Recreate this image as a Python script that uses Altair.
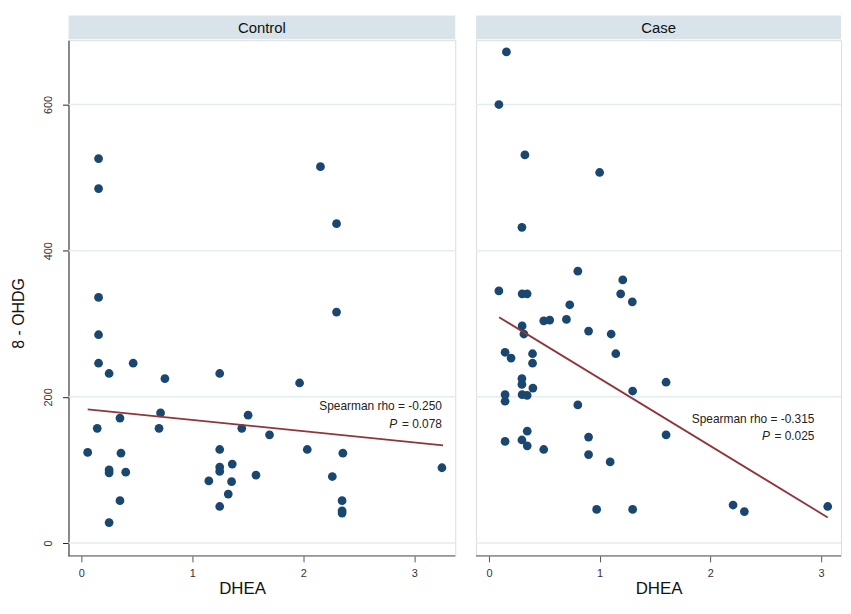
import altair as alt
import pandas as pd

# ---- data ----
control_dhea = [0.155, 0.155, 2.155, 2.30, 0.155, 2.30, 0.155, 0.155, 0.467, 0.25,
                1.247, 0.753, 1.967, 0.714, 0.348, 1.503, 0.143, 0.70, 1.446, 1.696,
                0.057, 0.357, 1.247, 2.036, 2.357, 1.36, 1.247, 1.247, 0.25, 0.25,
                0.40, 1.574, 2.262, 3.25, 1.149, 1.354, 1.324, 0.348, 2.35, 2.35,
                2.35, 1.247, 0.25]
control_ohdg = [526, 485, 515, 437, 336, 316, 285, 246, 246, 232,
                232, 225, 219, 178, 171, 175, 157, 157, 157, 148,
                124, 123, 128, 128, 123, 108, 104, 98, 100, 96,
                97, 93, 91, 103, 85, 84, 67, 58, 58, 44,
                41, 50, 28]

case_dhea = [0.158, 0.09, 0.325, 1.0, 0.298, 0.803, 1.209, 0.09, 0.30, 0.345,
             1.19, 0.73, 1.295, 0.495, 0.549, 0.70, 0.30, 0.316, 0.90, 1.104,
             0.146, 0.20, 0.394, 1.146, 0.394, 0.298, 0.298, 0.397, 1.60, 1.298,
             0.146, 0.146, 0.30, 0.345, 0.803, 0.346, 0.146, 0.298, 0.346, 0.90,
             1.60, 0.495, 0.90, 1.095, 0.973, 1.298, 2.205, 2.307, 3.06]
case_ohdg = [672, 600, 531, 507, 432, 372, 360, 345, 341, 341,
             341, 326, 330, 304, 305, 306, 297, 286, 290, 286,
             261, 253, 259, 259, 246, 225, 217, 212, 220, 208,
             203, 194, 203, 202, 189, 153, 139, 141, 133, 145,
             148, 128, 121, 111, 46, 46, 52, 43, 50]

# fitted lines (end points)
control_fit_x = [0.057, 3.26]
control_fit_y = [183, 133.5]
case_fit_x = [0.092, 3.06]
case_fit_y = [309, 35]

panels = ["Control", "Case"]
rho_text = ["Spearman rho = -0.250", "Spearman rho = -0.315"]
p_text = [" = 0.078", " = 0.025"]
text_x = [3.25, 2.94]
rho_y = [187, 170]
p_y = [163, 146]

y_ticks = [0, 200, 400, 600]
x_ticks = [0, 1, 2, 3]

NAVY = "#1a476f"
MAROON = "#90353b"
GRID = "#e3edef"
STRIP = "#d8e4e9"
FONT = "Liberation Sans"

pts = {
    "Control": pd.DataFrame({"DHEA": control_dhea, "OHDG": control_ohdg}),
    "Case": pd.DataFrame({"DHEA": case_dhea, "OHDG": case_ohdg}),
}
fits = {
    "Control": pd.DataFrame({"DHEA": control_fit_x, "OHDG": control_fit_y}),
    "Case": pd.DataFrame({"DHEA": case_fit_x, "OHDG": case_fit_y}),
}
grid_df = pd.DataFrame({"OHDG": y_ticks})

widths = [390, 368]
x_domains = [[-0.116, 3.37], [-0.116, 3.18]]
title_x = [175, 184]
y_domain = [-17.6, 688]
H = 520


def panel(i):
    name = panels[i]
    w = widths[i]
    xs = alt.Scale(domain=x_domains[i], nice=False, zero=False)
    ys = alt.Scale(domain=y_domain, nice=False, zero=False)
    xaxis = alt.Axis(values=x_ticks, title="DHEA", grid=False, tickSize=6,
                     labelPadding=6, titleFontSize=17, titleFont=FONT,
                     titleFontWeight="normal", titleColor="#111", titlePadding=2,
                     titleX=title_x[i], labelFont=FONT, labelFontSize=11,
                     labelColor="#333", domain=False, tickColor="#555",
                     format="d")
    if i == 0:
        yaxis = alt.Axis(values=y_ticks, title="8 - OHDG", grid=False,
                         tickSize=6, labelAngle=-90, labelPadding=9,
                         labelFont=FONT, labelFontSize=11, labelColor="#333",
                         domain=True, domainColor="#222", tickColor="#222",
                         titleFont=FONT, titleFontSize=16, titleFontWeight="normal",
                         titleColor="#111", titlePadding=16, titleY=275)
    else:
        yaxis = None

    def X(field):
        return alt.X(field, scale=xs, axis=xaxis)

    def Y(field):
        return alt.Y(field, scale=ys, axis=yaxis)

    grid = alt.Chart(grid_df).mark_rule(color=GRID, strokeWidth=1.5).encode(
        y=Y("OHDG:Q"))
    base_line = alt.Chart(pd.DataFrame({"k": [0]})).mark_rule(
        color="#555", strokeWidth=1).encode(
        x=alt.value(0), x2=alt.value(w), y=alt.value(H))
    points = alt.Chart(pts[name]).mark_circle(size=78, color=NAVY, opacity=1).encode(
        x=X("DHEA:Q"), y=Y("OHDG:Q"))
    line = alt.Chart(fits[name]).mark_line(color=MAROON, strokeWidth=1.8).encode(
        x=X("DHEA:Q"), y=Y("OHDG:Q"))
    ann = pd.DataFrame({"DHEA": [text_x[i]], "ry": [rho_y[i]], "py": [p_y[i]],
                        "rho": [rho_text[i]], "p": [p_text[i]]})
    rho = alt.Chart(ann).mark_text(align="right", baseline="middle", font=FONT,
                                   fontSize=12, color="#222").encode(
        x=X("DHEA:Q"), y=Y("ry:Q"), text="rho:N")
    pval = alt.Chart(ann).mark_text(align="right", baseline="middle", font=FONT,
                                    fontSize=12, color="#222").encode(
        x=X("DHEA:Q"), y=Y("py:Q"), text="p:N")
    pital = alt.Chart(ann).mark_text(align="right", baseline="middle", font=FONT,
                                     fontSize=12, fontStyle="italic", color="#222",
                                     dx=-45).encode(
        x=X("DHEA:Q"), y=Y("py:Q"), text=alt.value("P"))
    strip_df = pd.DataFrame({"label": [name]})
    strip = alt.Chart(strip_df).mark_rect(color=STRIP, clip=False).encode(
        x=alt.value(0), x2=alt.value(w), y=alt.value(-25), y2=alt.value(-1))
    strip_txt = alt.Chart(strip_df).mark_text(font=FONT, fontSize=15, color="#111",
                                              baseline="middle", clip=False).encode(
        x=alt.value(w / 2), y=alt.value(-12), text="label:N")
    return alt.layer(grid, base_line, strip, points, line, rho, pval, pital,
                     strip_txt).properties(width=w, height=H)


chart = alt.hconcat(panel(0), panel(1), spacing=17).resolve_scale(
    x="independent", y="independent"
).properties(
    padding={"left": 2, "top": 4, "right": 0, "bottom": 0}
).configure_view(strokeWidth=0, strokeOpacity=0, stroke="transparent").configure(
    background="white")

chart.save("out.html", embed_options={"renderer": "svg", "actions": False})
